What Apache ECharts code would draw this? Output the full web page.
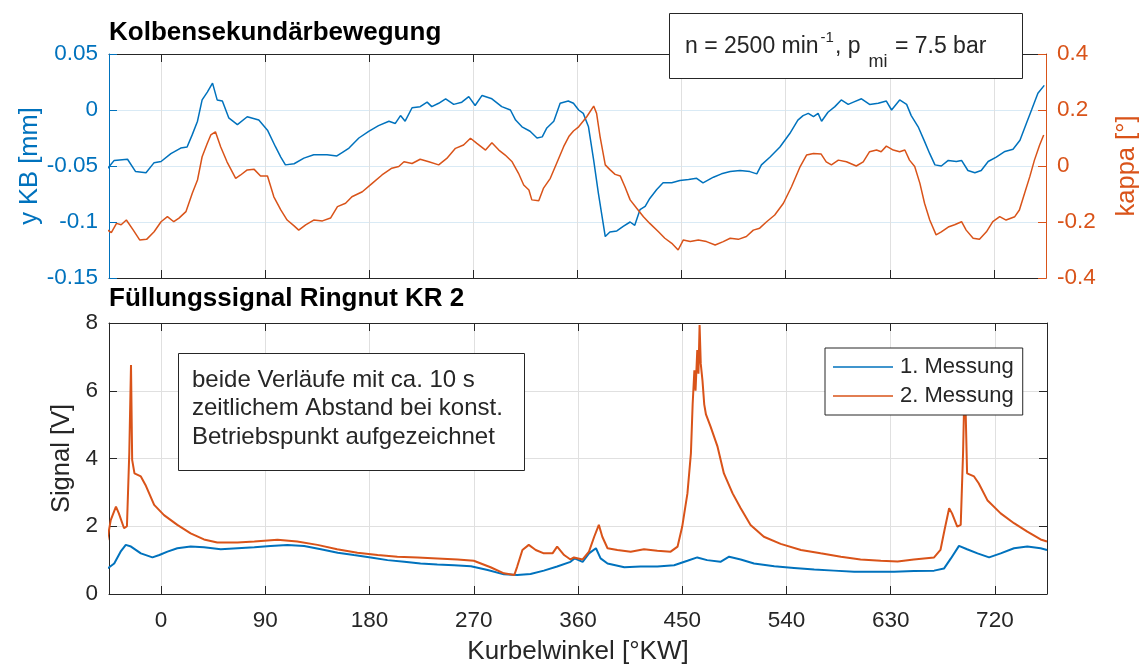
<!DOCTYPE html>
<html>
<head>
<meta charset="utf-8">
<script src="https://cdn.jsdelivr.net/npm/echarts@6/dist/echarts.min.js"></script>
<style>
  html, body { margin: 0; padding: 0; background: #ffffff; }
  #chart { width: 1144px; height: 664px; }
</style>
</head>
<body>
<div id="chart"></div>
<script>
// Crank angle ticks shared by both panels [°KW]
const tickAngles = [0, 90, 180, 270, 360, 450, 540, 630, 720];

// Piston secondary motion y KB [mm]
const kbAngle = [-46, -40.5, -29, -22, -13, -6, 0, 8.5, 17, 22.5, 27, 31.5, 35.5, 40, 44.5, 48.5, 53, 58.5, 66, 74.5, 84.5, 92, 99, 103.5, 107.5, 115, 123.5, 132, 143.5, 152, 156.5, 162.5, 171, 179.5, 188, 197, 202.5, 207, 211, 217, 224, 230, 234, 240, 246, 253, 260, 266, 271.5, 277.5, 286, 294.5, 302, 306.5, 312, 319, 325, 329.5, 333.5, 339.5, 345, 352, 356.5, 361, 365, 369.5, 374, 378, 384, 388, 394, 399.5, 405.5, 409.5, 414, 418.5, 422.5, 428.5, 434, 441.5, 448.5, 456, 463, 468.5, 477.5, 484.5, 492, 500.5, 509, 515, 519, 526.5, 535, 543.5, 550.5, 555, 559.5, 564, 568, 571, 576.5, 582.5, 588, 594, 598.5, 605.5, 612.5, 620, 627, 631.5, 638.5, 644.5, 648.5, 654.5, 660, 664.5, 669, 674.5, 680.5, 687.5, 692, 697.5, 703.5, 709, 715, 722, 729.5, 736.5, 742.5, 748, 752.5, 758, 763.5];
const kbValue = [-0.052, -0.045, -0.044, -0.055, -0.056, -0.047, -0.046, -0.039, -0.034, -0.033, -0.022, -0.010, 0.009, 0.016, 0.024, 0.009, 0.008, -0.007, -0.013, -0.006, -0.009, -0.018, -0.033, -0.042, -0.049, -0.048, -0.043, -0.040, -0.040, -0.041, -0.038, -0.034, -0.025, -0.019, -0.014, -0.010, -0.012, -0.005, -0.010, 0.002, 0.003, 0.007, 0.003, 0.006, 0.010, 0.005, 0.007, 0.012, 0.004, 0.013, 0.010, 0.003, 0.000, -0.009, -0.015, -0.019, -0.025, -0.024, -0.016, -0.010, 0.006, 0.008, 0.006, 0.000, -0.003, -0.015, -0.045, -0.074, -0.113, -0.109, -0.108, -0.104, -0.100, -0.103, -0.089, -0.086, -0.079, -0.071, -0.065, -0.065, -0.063, -0.062, -0.061, -0.065, -0.060, -0.057, -0.055, -0.054, -0.055, -0.057, -0.049, -0.042, -0.033, -0.021, -0.009, -0.005, -0.003, -0.006, -0.003, -0.010, -0.002, 0.003, 0.009, 0.005, 0.007, 0.010, 0.005, 0.006, 0.008, 0.000, 0.009, 0.005, -0.005, -0.015, -0.028, -0.039, -0.049, -0.050, -0.045, -0.046, -0.045, -0.054, -0.056, -0.054, -0.046, -0.042, -0.037, -0.035, -0.027, -0.012, 0.000, 0.015, 0.022];

// Piston tilt kappa [°]
const kappaAngle = [-46, -43, -38.5, -34.5, -30, -24, -18.5, -12.5, -6, 0, 5.5, 11, 15.5, 21.5, 27, 31.5, 35.5, 40, 43, 47, 51.5, 57, 64.5, 68.5, 74.5, 80.5, 86, 92, 97.5, 103.5, 109, 115, 119, 125, 132, 139.5, 146.5, 152.5, 159.5, 165, 174, 182.5, 191, 199.5, 205.5, 210, 217, 224, 231.5, 240, 247, 254.5, 261.5, 267.5, 273, 280.5, 286, 292, 297.5, 303.5, 309, 313.5, 318, 320.5, 326.5, 330.5, 336.5, 342, 348, 352.5, 356.5, 361, 368, 374, 376.5, 379.5, 384, 388, 392.5, 397, 401, 405.5, 411, 417, 422.5, 430, 435.5, 441.5, 447, 451.5, 457.5, 464.5, 471.5, 479, 486, 492, 499, 506, 512, 517.5, 523.5, 530.5, 538, 545, 552.5, 558, 564, 570.5, 575, 579.5, 585.5, 592.5, 601, 607, 612.5, 618.5, 622.5, 627, 633, 638.5, 643, 647, 651.5, 656, 660, 664.5, 670, 674.5, 680.5, 686, 692, 696, 702, 707.5, 713.5, 719, 725, 730.5, 738, 742, 746.5, 751, 755, 759.5, 763];
const kappaValue = [-0.229, -0.238, -0.205, -0.210, -0.193, -0.229, -0.264, -0.262, -0.235, -0.199, -0.181, -0.199, -0.186, -0.163, -0.097, -0.050, 0.033, 0.081, 0.111, 0.122, 0.069, 0.015, -0.044, -0.033, -0.014, -0.012, -0.036, -0.036, -0.110, -0.157, -0.193, -0.214, -0.229, -0.210, -0.193, -0.196, -0.186, -0.145, -0.133, -0.110, -0.092, -0.062, -0.032, -0.008, -0.002, 0.015, 0.009, 0.024, 0.015, 0.004, 0.027, 0.063, 0.075, 0.099, 0.081, 0.057, 0.083, 0.057, 0.039, 0.015, -0.026, -0.068, -0.086, -0.121, -0.124, -0.080, -0.044, 0.010, 0.069, 0.105, 0.125, 0.140, 0.176, 0.214, 0.188, 0.105, 0.004, -0.013, -0.030, -0.036, -0.074, -0.121, -0.150, -0.181, -0.205, -0.235, -0.258, -0.276, -0.300, -0.264, -0.270, -0.264, -0.270, -0.282, -0.270, -0.258, -0.262, -0.252, -0.229, -0.222, -0.199, -0.175, -0.133, -0.074, -0.002, 0.039, 0.045, 0.043, 0.015, 0.004, 0.021, 0.015, 0.000, 0.015, 0.051, 0.057, 0.051, 0.071, 0.057, 0.051, 0.057, 0.021, -0.002, -0.062, -0.133, -0.193, -0.246, -0.235, -0.218, -0.210, -0.199, -0.229, -0.258, -0.262, -0.235, -0.199, -0.181, -0.193, -0.181, -0.157, -0.097, -0.038, 0.021, 0.075, 0.111];

// Groove fill signal KR 2, measurement 1 [V]
const m1Angle = [-46, -40.5, -35, -30.5, -26, -17.5, -7.5, -1.5, 5.5, 14, 25.5, 37, 51.5, 66, 80.5, 94.5, 109, 123.5, 138, 152.5, 166.5, 181, 195.5, 210, 224, 238.5, 253, 267.5, 282, 296, 307.5, 319, 330.5, 342, 353.5, 357, 364, 369.5, 375.5, 379.5, 385.5, 400, 414, 428.5, 443, 454.5, 463, 471.5, 483, 490.5, 500.5, 512, 529.5, 546.5, 564, 581, 598.5, 615.5, 633, 650, 667.5, 676, 682, 689, 696, 705, 715, 725, 736.5, 748, 759.5, 765];
const m1Value = [0.76, 0.90, 1.25, 1.45, 1.40, 1.20, 1.08, 1.15, 1.25, 1.35, 1.40, 1.38, 1.32, 1.35, 1.38, 1.42, 1.45, 1.42, 1.32, 1.22, 1.15, 1.08, 1.00, 0.95, 0.90, 0.87, 0.85, 0.82, 0.71, 0.58, 0.56, 0.59, 0.69, 0.81, 0.95, 1.05, 0.95, 1.20, 1.35, 1.05, 0.90, 0.79, 0.81, 0.81, 0.85, 0.98, 1.08, 1.00, 0.95, 1.10, 1.02, 0.90, 0.82, 0.77, 0.72, 0.69, 0.66, 0.66, 0.66, 0.68, 0.69, 0.75, 1.05, 1.42, 1.32, 1.20, 1.08, 1.20, 1.35, 1.40, 1.35, 1.30];

// Groove fill signal KR 2, measurement 2 [V]
const m2Angle = [-46.5, -43.5, -39, -36.5, -32, -29.5, -27.5, -26, -25, -23, -17.5, -13.5, -6, 2.5, 14, 25.5, 37, 48.5, 66, 80.5, 100.5, 117.5, 135, 152, 169.5, 187, 204, 221.5, 238.5, 256, 270, 284.5, 296, 305, 307.5, 312, 317.5, 323.5, 330.5, 338, 342, 348, 353.5, 356.5, 364, 369.5, 374, 378, 381, 385.5, 394, 405.5, 417, 428.5, 440, 446, 450, 454.5, 457.5, 459, 460.5, 461.5, 463, 464, 465, 466, 467.5, 469, 470.5, 474.5, 480.5, 486, 493.5, 500.5, 509, 520.5, 535, 552.5, 569.5, 587, 604, 621.5, 636, 650, 667.5, 673, 676.5, 680.5, 683, 687.5, 690.5, 692.5, 694, 696, 702, 706, 713.5, 725, 736.5, 748, 759.5, 765];
const m2Value = [1.59, 2.18, 2.58, 2.38, 1.94, 2.00, 4.15, 6.76, 3.96, 3.56, 3.47, 3.22, 2.63, 2.33, 2.04, 1.79, 1.61, 1.52, 1.52, 1.55, 1.60, 1.55, 1.45, 1.32, 1.22, 1.15, 1.10, 1.08, 1.05, 1.02, 0.98, 0.79, 0.61, 0.56, 0.81, 1.30, 1.45, 1.30, 1.20, 1.20, 1.40, 1.15, 1.02, 1.08, 1.02, 1.25, 1.69, 2.04, 1.69, 1.35, 1.30, 1.25, 1.32, 1.28, 1.25, 1.40, 1.99, 2.97, 4.15, 5.60, 6.60, 6.00, 7.20, 6.50, 7.94, 6.80, 6.30, 5.60, 5.30, 4.94, 4.35, 3.56, 2.97, 2.53, 2.04, 1.69, 1.48, 1.30, 1.20, 1.10, 1.02, 0.98, 0.96, 1.02, 1.08, 1.30, 1.89, 2.53, 2.38, 1.99, 2.04, 4.15, 6.50, 3.56, 3.47, 3.27, 2.77, 2.38, 2.09, 1.84, 1.61, 1.55];

const BLUE = '#0072BD';
const ORANGE = '#D95319';
const DARK = '#262626';
const FONT = '"Liberation Sans", Arial, Helvetica, sans-serif';

function pairs(xs, ys) {
  return xs.map(function (x, i) { return [x, ys[i]]; });
}

function angleAxis(gridIndex, position, withLabels) {
  return {
    type: 'value',
    gridIndex: gridIndex,
    position: position,
    min: -45,
    max: 765,
    axisLine: { show: true, onZero: false, lineStyle: { color: DARK, width: 1 } },
    axisTick: { show: true, inside: true, length: 8, customValues: tickAngles, lineStyle: { color: DARK, width: 1 } },
    axisLabel: { show: withLabels, customValues: tickAngles, color: DARK, fontSize: 22.5, fontFamily: FONT, margin: 15 },
    splitLine: { show: position === 'bottom', lineStyle: { color: '#e0e0e0', width: 1 } },
    name: withLabels ? 'Kurbelwinkel [°KW]' : '',
    nameLocation: 'middle',
    nameGap: 45,
    nameMoveOverlap: false,
    nameTextStyle: { color: DARK, fontSize: 26, fontFamily: FONT }
  };
}

function valueAxis(opts) {
  return {
    type: 'value',
    gridIndex: opts.grid,
    position: opts.position,
    min: opts.min,
    max: opts.max,
    interval: opts.interval,
    axisLine: { show: true, onZero: false, lineStyle: { color: opts.color, width: 1 } },
    axisTick: { show: true, inside: true, length: 8, lineStyle: { color: opts.color, width: 1 } },
    axisLabel: {
      show: opts.labels !== false,
      color: opts.color,
      fontSize: 22.5,
      fontFamily: FONT,
      margin: 11,
      formatter: function (v) { return String(parseFloat(v.toFixed(3))); }
    },
    splitLine: { show: !!opts.gridColor, lineStyle: { color: opts.gridColor || '#e0e0e0', width: 1 } },
    name: opts.name || '',
    nameLocation: 'middle',
    nameGap: opts.nameGap || 40,
    nameMoveOverlap: false,
    nameTextStyle: { color: opts.color, fontSize: 25.5, fontFamily: FONT }
  };
}

const chart = echarts.init(document.getElementById('chart'), null, { renderer: 'canvas' });

chart.setOption({
  animation: false,
  backgroundColor: '#ffffff',
  textStyle: { fontFamily: FONT },
  title: [
    { text: 'Kolbensekundärbewegung', left: 109, top: 20, padding: 0,
      textStyle: { fontSize: 26, fontWeight: 'bold', color: '#000000', fontFamily: FONT } },
    { text: 'Füllungssignal Ringnut KR 2', left: 109, top: 286, padding: 0,
      textStyle: { fontSize: 26, fontWeight: 'bold', color: '#000000', fontFamily: FONT } }
  ],
  grid: [
    { left: 109, right: 98, top: 54, height: 224, outerBoundsMode: 'none', containLabel: false },
    { left: 109, right: 97, top: 323, height: 271, outerBoundsMode: 'none', containLabel: false }
  ],
  xAxis: [
    angleAxis(0, 'bottom', false),
    angleAxis(0, 'top', false),
    angleAxis(1, 'bottom', true),
    angleAxis(1, 'top', false)
  ],
  yAxis: [
    valueAxis({ grid: 0, position: 'left', min: -0.15, max: 0.05, interval: 0.05, color: BLUE,
      gridColor: '#d9eaf5', name: 'y KB [mm]', nameGap: 66 }),
    valueAxis({ grid: 0, position: 'right', min: -0.4, max: 0.4, interval: 0.2, color: ORANGE,
      name: 'kappa [°]', nameGap: 68 }),
    valueAxis({ grid: 1, position: 'left', min: 0, max: 8, interval: 2, color: DARK,
      gridColor: '#e0e0e0', name: 'Signal [V]', nameGap: 34 }),
    valueAxis({ grid: 1, position: 'right', min: 0, max: 8, interval: 2, color: DARK, labels: false })
  ],
  legend: {
    data: ['1. Messung', '2. Messung'],
    orient: 'vertical',
    left: 825,
    top: 348,
    padding: [8, 9, 8, 8],
    itemGap: 7,
    itemWidth: 60,
    itemHeight: 1.5,
    icon: 'rect',
    backgroundColor: '#ffffff',
    borderColor: DARK,
    borderWidth: 1,
    borderRadius: 0,
    selectedMode: false,
    textStyle: { color: DARK, fontSize: 22, fontFamily: FONT, padding: [0, 0, 0, 2] }
  },
  graphic: [
    {
      type: 'rect', z: 100,
      shape: { x: 669.5, y: 13.5, width: 353, height: 65 },
      style: { fill: '#ffffff', stroke: DARK, lineWidth: 1 }
    },
    {
      type: 'text', z: 101, x: 685, y: 47,
      style: {
        text: 'n = 2500 min{sup|-1}, p{sub|mi} = 7.5 bar',
        align: 'left', verticalAlign: 'middle',
        fill: DARK, font: '23px ' + FONT, lineHeight: 48,
        rich: {
          sup: { fontSize: 15, verticalAlign: 'top', fill: DARK, fontFamily: FONT, padding: [7, 1, 0, 2] },
          sub: { fontSize: 18, verticalAlign: 'bottom', fill: DARK, fontFamily: FONT, padding: [0, 1, 0, 8] }
        }
      }
    },
    {
      type: 'rect', z: 100,
      shape: { x: 178.5, y: 353.5, width: 346, height: 117 },
      style: { fill: '#ffffff', stroke: DARK, lineWidth: 1 }
    },
    {
      type: 'text', z: 101, x: 192, y: 366,
      style: {
        text: 'beide Verläufe mit ca. 10 s\nzeitlichem Abstand bei konst.\nBetriebspunkt aufgezeichnet',
        align: 'left', verticalAlign: 'top',
        fill: DARK, font: '24px ' + FONT, lineHeight: 28.5
      }
    }
  ],
  series: [
    { type: 'line', name: 'y KB', xAxisIndex: 0, yAxisIndex: 0, data: pairs(kbAngle, kbValue),
      symbol: 'none', lineStyle: { color: BLUE, width: 1.5 }, itemStyle: { color: BLUE } },
    { type: 'line', name: 'kappa', xAxisIndex: 0, yAxisIndex: 1, data: pairs(kappaAngle, kappaValue),
      symbol: 'none', lineStyle: { color: ORANGE, width: 1.5 }, itemStyle: { color: ORANGE } },
    { type: 'line', name: '1. Messung', xAxisIndex: 2, yAxisIndex: 2, data: pairs(m1Angle, m1Value),
      symbol: 'none', lineStyle: { color: BLUE, width: 2 }, itemStyle: { color: BLUE } },
    { type: 'line', name: '2. Messung', xAxisIndex: 2, yAxisIndex: 2, data: pairs(m2Angle, m2Value),
      symbol: 'none', lineStyle: { color: ORANGE, width: 2 }, itemStyle: { color: ORANGE } }
  ]
});
</script>
</body>
</html>
